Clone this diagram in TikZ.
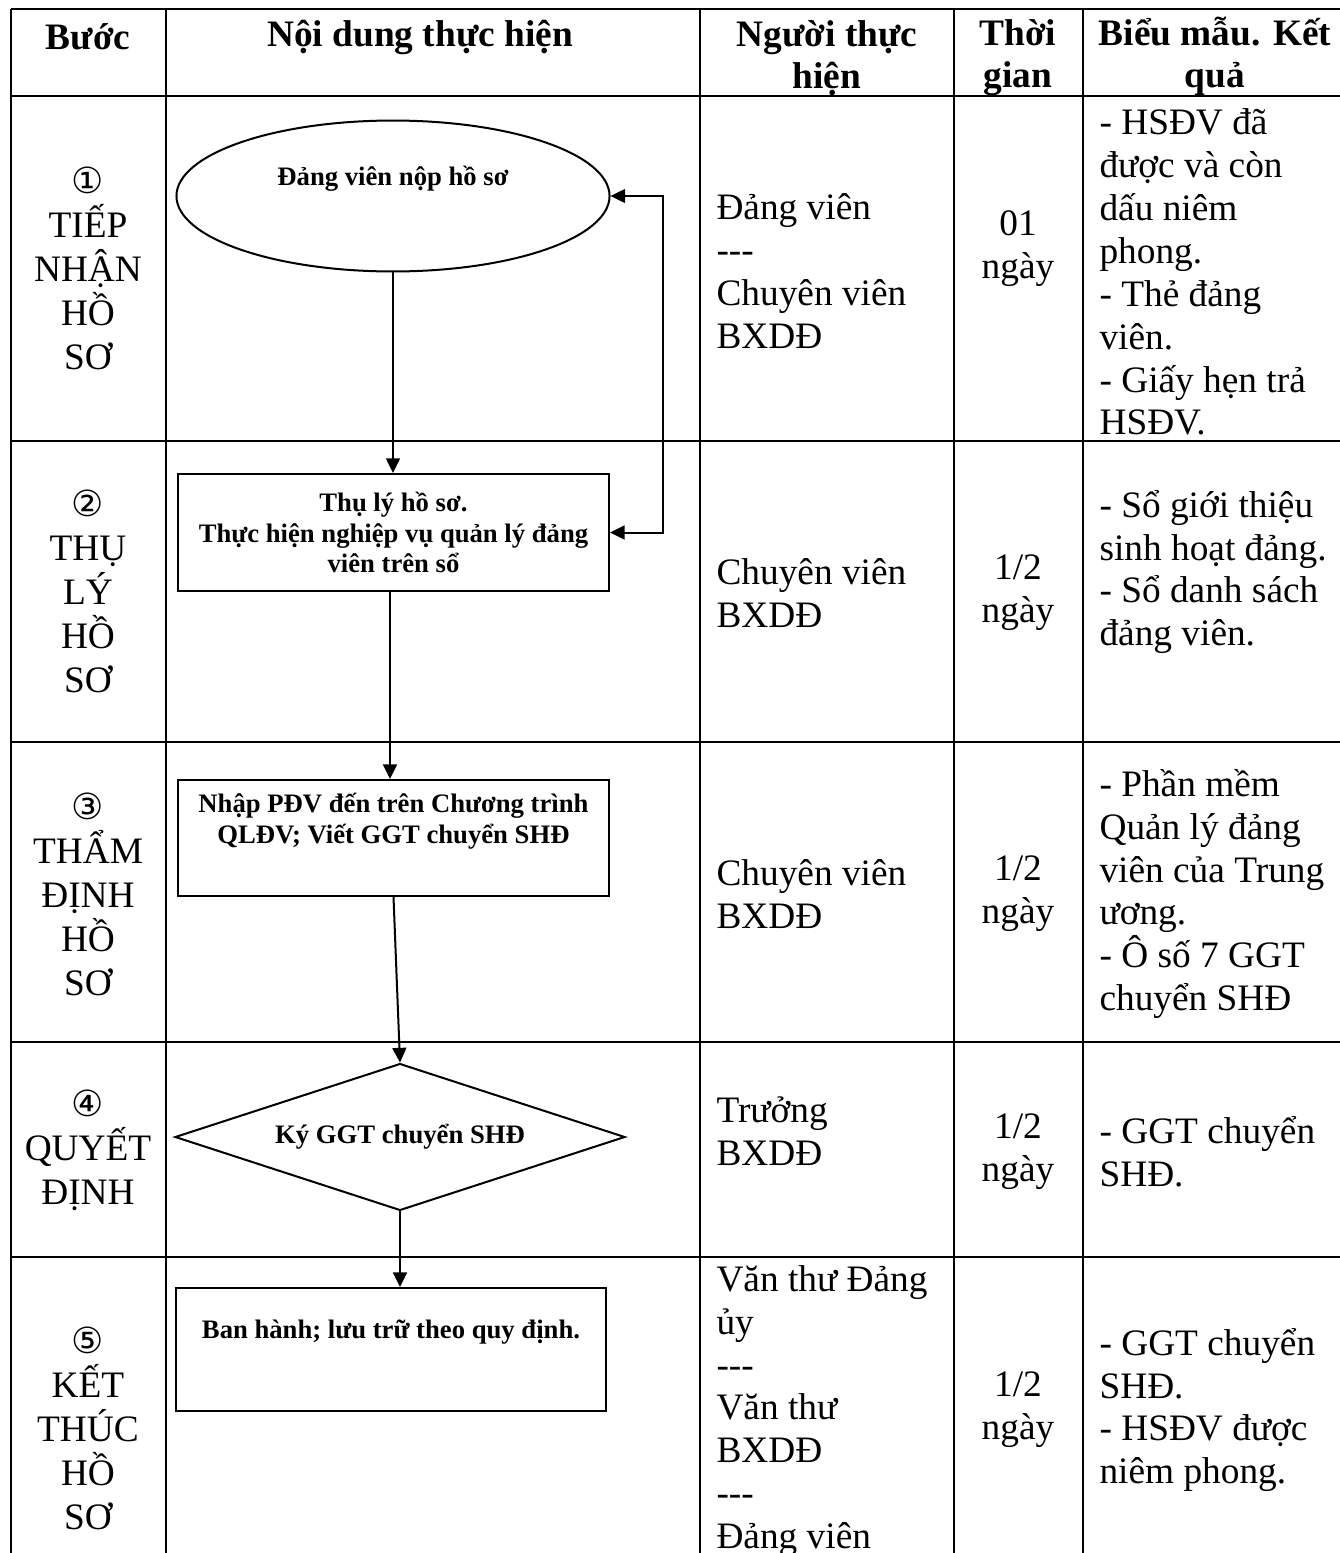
\documentclass[tikz,border=0pt]{standalone}
\usepackage{fontspec}
\setmainfont{Liberation Serif}
\newfontfamily\circfont{DejaVu Sans}
\usetikzlibrary{shapes.geometric,arrows.meta}
\newcommand{\cnum}[1]{{\circfont\fontsize{13.5}{16.5}\selectfont #1}}
\begin{document}
\begin{tikzpicture}[x=0.375pt,y=-0.375pt]
\tikzset{
  tbl/.style={line width=0.9pt},
  hdr/.style={font=\fontsize{14}{15.75}\selectfont\bfseries, align=center, inner sep=0pt},
  stepcol/.style={font=\fontsize{14}{16.5}\selectfont, align=center, inner sep=0pt},
  cellc/.style={font=\fontsize{14}{16.1}\selectfont, align=center, inner sep=0pt},
  celll/.style={font=\fontsize{14}{16.1}\selectfont, align=left, inner sep=0pt, anchor=west},
  flow/.style={draw, line width=0.75pt, font=\fontsize{10}{11.5}\selectfont\bfseries, align=center, inner sep=0pt},
  tip/.tip={Triangle[length=5.5pt,width=5.2pt]},
  conn/.style={line width=0.75pt, -tip},
}
\useasboundingbox (0,0) rectangle (1340,1553);
\clip (0,0) rectangle (1340,1553);

% table grid
\foreach \yy in {9,96,441,742,1042,1257} \draw[tbl] (11,\yy) -- (1352,\yy);
\foreach \xx in {11,166,700,954,1083} \draw[tbl] (\xx,9) -- (\xx,1570);

% header
\node[hdr] (h1) at (88,37) {Bước};
\node[hdr] (h2) at (420,37) {Nội dung thực hiện};
\node[hdr] (h3) at (827,58) {Người thực\\hiện};
\node[hdr] (h4) at (1018,58) {Thời\\gian};
\node[hdr] (h5) at (1215,56) {Biểu mẫu. Kết\\quả};

% column 1
\node[stepcol] (s1) at (88,268) {\cnum{①}\\TIẾP\\NHẬN\\HỒ\\SƠ};
\node[stepcol] (s2) at (88,591) {\cnum{②}\\THỤ\\LÝ\\HỒ\\SƠ};
\node[stepcol] (s3) at (88,894) {\cnum{③}\\THẨM\\ĐỊNH\\HỒ\\SƠ};
\node[stepcol] (s4) at (88,1150) {\cnum{④}\\QUYẾT\\ĐỊNH};
\node[stepcol] (s5) at (88,1428) {\cnum{⑤}\\KẾT\\THÚC\\HỒ\\SƠ};

% column 3
\node[celll] (p1) at (716,271) {Đảng viên\\-{}-{}-\\Chuyên viên\\BXDĐ};
\node[celll] (p2) at (716,593) {Chuyên viên\\BXDĐ};
\node[celll] (p3) at (716,894) {Chuyên viên\\BXDĐ};
\node[celll] (p4) at (716,1131) {Trưởng\\BXDĐ};
\node[celll] (p5) at (716,1411) {Văn thư Đảng\\ủy\\-{}-{}-\\Văn thư\\BXDĐ\\-{}-{}-\\Đảng viên};

% column 4
\node[cellc] (t1) at (1018,249) {01\\ngày};
\node[cellc] (t2) at (1018,593) {1/2\\ngày};
\node[cellc] (t3) at (1018,894) {1/2\\ngày};
\node[cellc] (t4) at (1018,1152) {1/2\\ngày};
\node[cellc] (t5) at (1018,1410) {1/2\\ngày};

% column 5
\node[celll] (k1) at (1099,272) {- HSĐV đã\\được và còn\\dấu niêm\\phong.\\- Thẻ đảng\\viên.\\- Giấy hẹn trả\\HSĐV.};
\node[celll] (k2) at (1099,572) {- Sổ giới thiệu\\sinh hoạt đảng.\\- Sổ danh sách\\đảng viên.};
\node[celll] (k3) at (1099,894) {- Phần mềm\\Quản lý đảng\\viên của Trung\\ương.\\- Ô số 7 GGT\\chuyển SHĐ};
\node[celll] (k4) at (1099,1152) {- GGT chuyển\\SHĐ.};
\node[celll] (k5) at (1099,1410) {- GGT chuyển\\SHĐ.\\- HSĐV được\\niêm phong.};

% flowchart
\node[flow, ellipse, minimum width=162.4pt, minimum height=56.6pt] (e1) at (393,196) {Đảng viên nộp hồ sơ\\\strut};
\node[flow, rectangle, minimum width=161.6pt, minimum height=43.9pt] (b2) at (393.5,532.5) {Thụ lý hồ sơ.\\Thực hiện nghiệp vụ quản lý đảng\\viên trên sổ};
\node[flow, rectangle, minimum width=161.6pt, minimum height=43.5pt] (b3) at (393.5,838) {Nhập PĐV đến trên Chương trình\\QLĐV; Viết GGT chuyển SHĐ\\\strut};
\node[flow, diamond, shape aspect=3.06, minimum width=168.75pt, minimum height=55.1pt] (d4) at (400,1137) {Ký GGT chuyển SHĐ};
\node[flow, rectangle, minimum width=161.6pt, minimum height=46.1pt] (b5) at (391,1349.5) {Ban hành; lưu trữ theo quy định.\\\strut};

\coordinate (fb) at (663,360);

\draw[conn] (e1.south) -- (e1.south |- b2.north);
\draw[conn] (b2.south -| 390,0) -- (390,0 |- b3.north);
\draw[conn] (b3.south) -- (d4.north);
\draw[conn] (d4.south) -- (d4.south |- b5.north);
\draw[line width=0.75pt, tip-tip] (e1.east) -- (e1.east -| fb) -- (fb |- b2.east) -- (b2.east);
\end{tikzpicture}
\end{document}
